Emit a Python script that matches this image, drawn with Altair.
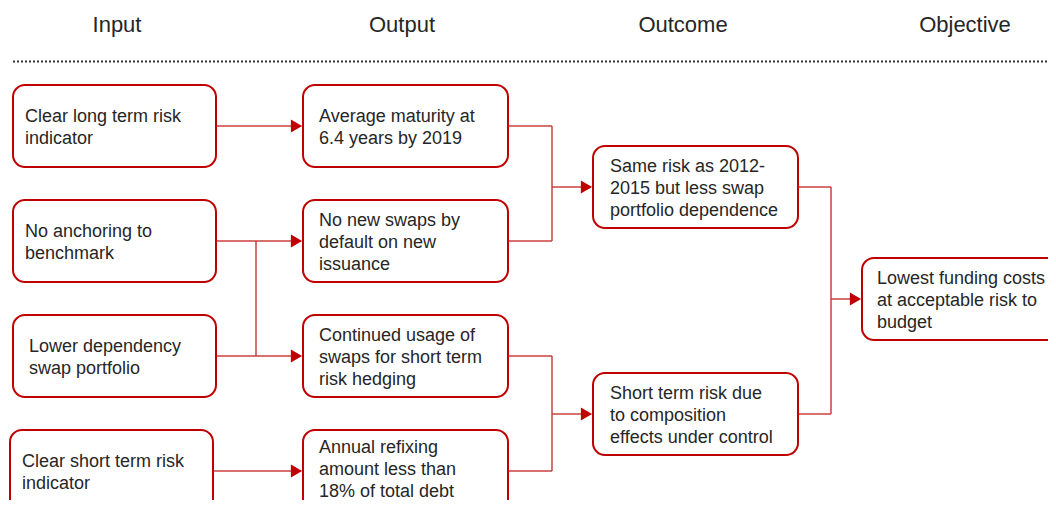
import altair as alt
import pandas as pd

# ---------------- data ----------------
stages = ["Input", "Output", "Outcome", "Objective"]

input_labels = [
    "Clear long term risk\nindicator",
    "No anchoring to\nbenchmark",
    "Lower dependency\nswap portfolio",
    "Clear short term risk\nindicator",
]
output_labels = [
    "Average maturity at\n6.4 years by 2019",
    "No new swaps by\ndefault on new\nissuance",
    "Continued usage of\nswaps for short term\nrisk hedging",
    "Annual refixing\namount less than\n18% of total debt",
]
outcome_labels = [
    "Same risk as 2012-\n2015 but less swap\nportfolio dependence",
    "Short term risk due\nto composition\neffects under control",
]
objective_labels = [
    "Lowest funding costs\nat acceptable risk to\nbudget",
]

# links: (source stage, source indices) -> (target stage, target indices)
links = [
    ("Input", [0], "Output", [0]),
    ("Input", [1, 2], "Output", [1, 2]),
    ("Input", [3], "Output", [3]),
    ("Output", [0, 1], "Outcome", [0]),
    ("Output", [2, 3], "Outcome", [1]),
    ("Outcome", [0, 1], "Objective", [0]),
]

# ---------------- layout ----------------
col_left = {"Input": 13, "Output": 303, "Outcome": 593, "Objective": 862}
col_right = {"Input": 216, "Output": 508, "Outcome": 798, "Objective": 1062}
text_pad = {"Input": 12, "Output": 16, "Outcome": 17, "Objective": 15}
row_center = {
    "Input": [126, 241, 356, 471],
    "Output": [126, 241, 356, 471],
    "Outcome": [187, 414],
    "Objective": [299],
}
node_shift = {("Input", 3): -3}
text_shift = {("Input", 2): 4}
text_vshift = {("Output", 3): -3}
header_x = [117, 402, 683, 965]
bus_x = {"Input": 256, "Output": 552, "Outcome": 831}
BOX_H = 82
LINE_H = 22
RED = "#C00000"
LINE = "#CC4040"
TXT = "#262626"

labels = {"Input": input_labels, "Output": output_labels,
          "Outcome": outcome_labels, "Objective": objective_labels}

boxes = []
for st in stages:
    for i, lab in enumerate(labels[st]):
        s = node_shift.get((st, i), 0)
        c = row_center[st][i]
        n = lab.count("\n") + 1
        boxes.append({
            "x": col_left[st] + s, "x2": col_right[st] + s,
            "y": c - BOX_H / 2, "y2": c + BOX_H / 2,
            "tx": col_left[st] + s + text_pad[st] + text_shift.get((st, i), 0),
            "ty": c - (n - 1) * LINE_H / 2 + 2 + text_vshift.get((st, i), 0),
            "label": lab,
        })
box_df = pd.DataFrame(boxes)

segs, arrows = [], []
for sst, sidx, tst, tidx in links:
    bx = bus_x[sst]
    ys = []
    for i in sidx:
        y = row_center[sst][i]
        ys.append(y)
        segs.append({"x": col_right[sst] + node_shift.get((sst, i), 0), "x2": bx, "y": y, "y2": y})
    for j in tidx:
        y = row_center[tst][j]
        ys.append(y)
        segs.append({"x": bx, "x2": col_left[tst] - 10, "y": y, "y2": y})
        arrows.append({"x": col_left[tst] - 6.5, "y": y})
    if max(ys) > min(ys):
        segs.append({"x": bx, "x2": bx, "y": min(ys), "y2": max(ys)})
seg_df = pd.DataFrame(segs)
arrow_df = pd.DataFrame(arrows)

head_df = pd.DataFrame({"x": header_x, "y": [32] * 4, "label": stages})
dot_df = pd.DataFrame({"x": [13], "x2": [1048], "y": [61.5]})

# ---------------- chart ----------------
W, H = 1040, 492
xs = alt.Scale(domain=[8, 8 + W], nice=False, zero=False)
ys = alt.Scale(domain=[8 + H, 8], nice=False, zero=False)

X = lambda f="x": alt.X(f"{f}:Q", scale=xs, axis=None)
Y = lambda f="y": alt.Y(f"{f}:Q", scale=ys, axis=None)

headers = alt.Chart(head_df).mark_text(
    fontSize=22, font="Liberation Sans", color=TXT, align="center", baseline="alphabetic"
).encode(x=X(), y=Y(), text="label:N")

dotted = alt.Chart(dot_df).mark_rule(
    color="#333333", strokeWidth=2, strokeDash=[2, 2]
).encode(x=X(), x2="x2:Q", y=Y())

lines = alt.Chart(seg_df).mark_rule(color=LINE, strokeWidth=1.5).encode(
    x=X(), x2="x2:Q", y=Y(), y2="y2:Q")

heads = alt.Chart(arrow_df).mark_point(
    shape="triangle-right", filled=True, size=169, color=RED, opacity=1
).encode(x=X(), y=Y())

rects = alt.Chart(box_df).mark_rect(
    cornerRadius=12, stroke=RED, strokeWidth=2, fill="white", clip=True
).encode(x=X(), x2="x2:Q", y=Y(), y2="y2:Q")

texts = alt.Chart(box_df).mark_text(
    fontSize=18, font="Liberation Sans", color=TXT, align="left", baseline="middle",
    lineBreak="\n", lineHeight=LINE_H
).encode(x=X("tx"), y=Y("ty"), text="label:N")

chart = alt.layer(dotted, lines, rects, heads, headers, texts).properties(
    width=W, height=H, padding=0,
    autosize=alt.AutoSizeParams(type="none"),
).configure(background="white").configure_view(strokeWidth=0)

chart.save("out.html", embed_options={"renderer": "svg", "actions": False})
